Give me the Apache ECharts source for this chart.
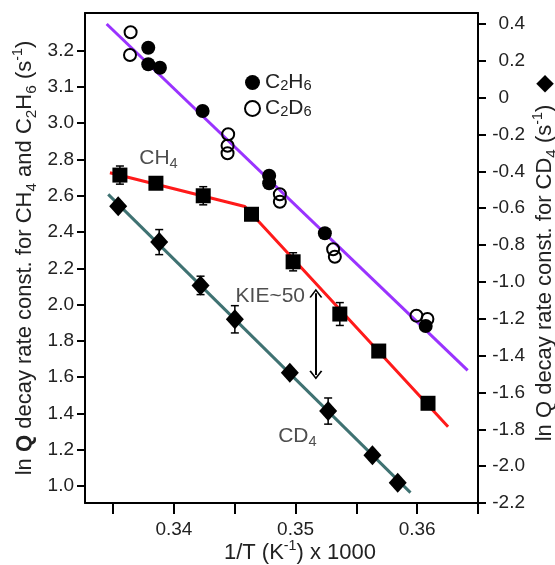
<!DOCTYPE html>
<html>
<head>
<meta charset="utf-8">
<script src="https://cdn.jsdelivr.net/npm/echarts@6/dist/echarts.min.js"></script>
<style>
  html, body { margin: 0; padding: 0; background: #fff; }
  #chart { width: 555px; height: 565px; }
</style>
</head>
<body>
<div id="chart"></div>
<script>
// x values are 1/T (K^-1) x 1000
const c2h6X = [0.33789, 0.33789, 0.33885, 0.34236, 0.34783, 0.34783, 0.35241, 0.36070];
const c2h6Y = [3.416, 3.325, 3.306, 3.067, 2.711, 2.669, 2.393, 1.882];
const c2d6X = [0.33644, 0.33639, 0.34446, 0.34441, 0.34441, 0.34871, 0.34871, 0.35309, 0.35323, 0.35994, 0.36084];
const c2d6Y = [3.501, 3.376, 2.939, 2.876, 2.834, 2.608, 2.567, 2.305, 2.264, 1.939, 1.921];
const ethaneFitX = [0.33447, 0.36415];
const ethaneFitY = [3.547, 1.637];

const ch4X = [0.33556, 0.33852, 0.34241, 0.34638, 0.34980, 0.35364, 0.35684, 0.36089];
const ch4Y = [2.714, 2.669, 2.600, 2.498, 2.236, 1.948, 1.744, 1.456];
const ch4Err = [0.05, 0.02, 0.05, 0.02, 0.05, 0.063, 0.02, 0.02];
const ch4FitX = [0.33474, 0.34583, 0.36254];
const ch4FitY = [2.727, 2.541, 1.327];

// CD4 goes on the right axis
const cd4X = [0.33542, 0.33879, 0.34219, 0.34501, 0.34953, 0.35268, 0.35632, 0.35840];
const cd4Y = [-0.590, -0.784, -1.019, -1.203, -1.493, -1.701, -1.941, -2.090];
const cd4Err = [0.02, 0.068, 0.05, 0.074, 0.02, 0.071, 0.02, 0.02];
const cd4FitX = [0.33460, 0.35945];
const cd4FitY = [-0.525, -2.144];

const xTicks = [0.335, 0.34, 0.345, 0.35, 0.355, 0.36, 0.365];
const xLabels = [0.34, 0.35, 0.36];
const leftTicks = [1.0, 1.2, 1.4, 1.6, 1.8, 2.0, 2.2, 2.4, 2.6, 2.8, 3.0, 3.2, 3.4];
const leftLabels = ['1.0', '1.2', '1.4', '1.6', '1.8', '2.0', '2.2', '2.4', '2.6', '2.8', '3.0', '3.1', '3.2'];
const rightTicks = [0.4, 0.2, 0, -0.2, -0.4, -0.6, -0.8, -1.0, -1.2, -1.4, -1.6, -1.8, -2.0, -2.2];

// KIE arrow, from/to on left axis
const kieX = 0.35167;
const kieY = [2.062, 1.612];

const FONT = '"Liberation Sans", Arial, sans-serif';
const TXT = '#222';

const pairs = (xs, ys) => xs.map((x, i) => [x, ys[i]]);

const richText = (size, lh) => ({
  b: { fontFamily: FONT, fontSize: size, fontWeight: 'bold', color: TXT, lineHeight: lh },
  sub: { fontFamily: FONT, fontSize: size * 0.7, color: TXT, verticalAlign: 'bottom', lineHeight: lh / 2 },
  sup: { fontFamily: FONT, fontSize: size * 0.65, color: TXT, verticalAlign: 'top', lineHeight: lh * 0.68 },
  dia: { fontFamily: '"DejaVu Sans"', fontSize: 23, color: '#000', lineHeight: lh }
});

const errorBars = (xs, ys, errs, yAxisIndex) => ({
  type: 'custom',
  yAxisIndex: yAxisIndex,
  silent: true,
  z: 3,
  data: xs.map((x, i) => [x, ys[i] - errs[i], ys[i] + errs[i]]),
  encode: { x: 0, y: [1, 2] },
  renderItem: function (params, api) {
    const lo = api.coord([api.value(0), api.value(1)]);
    const hi = api.coord([api.value(0), api.value(2)]);
    const w = 4;
    const style = { stroke: '#000', lineWidth: 1.5 };
    return {
      type: 'group',
      children: [
        { type: 'line', shape: { x1: lo[0], y1: lo[1], x2: hi[0], y2: hi[1] }, style: style },
        { type: 'line', shape: { x1: lo[0] - w, y1: lo[1], x2: lo[0] + w, y2: lo[1] }, style: style },
        { type: 'line', shape: { x1: hi[0] - w, y1: hi[1], x2: hi[0] + w, y2: hi[1] }, style: style }
      ]
    };
  }
});

const axisLine = { show: true, onZero: false, lineStyle: { color: '#000', width: 2 } };

const chart = echarts.init(document.getElementById('chart'));

chart.setOption({
  animation: false,
  backgroundColor: '#fff',
  textStyle: { fontFamily: FONT },
  // keep the plot box where it is, names may sit near the edge
  grid: { left: 85, right: 77, top: 13, bottom: 62, outerBoundsMode: 'none' },
  legend: {
    data: ['C2H6', 'C2D6'],
    orient: 'vertical',
    left: 239,
    top: 67,
    itemWidth: 15,
    itemHeight: 15,
    itemGap: 5,
    icon: 'circle',
    selectedMode: false,
    formatter: n => (n === 'C2H6' ? 'C{sub|2}H{sub|6}' : 'C{sub|2}D{sub|6}'),
    textStyle: { fontFamily: FONT, fontSize: 21, color: TXT, lineHeight: 21, rich: richText(21, 21) }
  },
  xAxis: [{
    type: 'value',
    min: 0.33269,
    max: 0.365,
    name: '1/T (K{sup|-1}) x 1000',
    nameLocation: 'middle',
    nameGap: 36,
    nameMoveOverlap: false,
    nameTextStyle: { fontFamily: FONT, fontSize: 22, color: TXT, lineHeight: 28, padding: [0, 0, 0, 37], rich: richText(22, 28) },
    axisLine: axisLine,
    axisTick: { show: true, customValues: xTicks, length: 11, lineStyle: { color: '#000', width: 2 } },
    axisLabel: { customValues: xLabels, formatter: v => v.toFixed(2), margin: 17, fontSize: 19, color: TXT, fontFamily: FONT },
    splitLine: { show: false }
  }, {
    type: 'value',
    position: 'top',
    min: 0.33269,
    max: 0.365,
    axisLine: axisLine,
    axisTick: { show: false },
    axisLabel: { show: false },
    splitLine: { show: false }
  }],
  yAxis: [{
    type: 'value',
    min: 0.9063,
    max: 3.6075,
    name: 'ln {b|Q} decay rate const. for CH{sub|4} and C{sub|2}H{sub|6} (s{sup|-1})',
    nameLocation: 'middle',
    nameRotate: 90,
    nameGap: 46,
    nameMoveOverlap: false,
    nameTextStyle: { fontFamily: FONT, fontSize: 22, color: TXT, lineHeight: 28, rich: richText(22, 28) },
    axisLine: axisLine,
    axisTick: { show: true, customValues: leftTicks, length: 8, lineStyle: { color: '#000', width: 2 } },
    axisLabel: {
      customValues: leftTicks,
      formatter: v => leftLabels[leftTicks.findIndex(t => Math.abs(t - v) < 1e-6)],
      margin: 11, fontSize: 19, color: TXT, fontFamily: FONT
    },
    splitLine: { show: false }
  }, {
    type: 'value',
    position: 'right',
    min: -2.2,
    max: 0.4594,
    name: 'ln Q decay rate const. for CD{sub|4} (s{sup|-1})  {dia|◆}',
    nameLocation: 'middle',
    nameRotate: 90,
    nameGap: 53,
    nameMoveOverlap: false,
    nameTextStyle: { fontFamily: FONT, fontSize: 22, color: TXT, lineHeight: 28, rich: richText(22, 28) },
    axisLine: axisLine,
    axisTick: { show: true, customValues: rightTicks, length: 8, lineStyle: { color: '#000', width: 2 } },
    axisLabel: {
      customValues: rightTicks,
      align: 'right',
      // numbers line up on the decimal point
      formatter: v => (Math.abs(v) < 1e-9 ? '0{ghost|.0}' : v.toFixed(1)),
      rich: { ghost: { fontSize: 19, fontFamily: FONT, color: 'rgba(0,0,0,0)' } },
      margin: 47, fontSize: 19, color: TXT, fontFamily: FONT
    },
    splitLine: { show: false }
  }],
  series: [
    {
      type: 'line', name: 'ethane fit', data: pairs(ethaneFitX, ethaneFitY),
      showSymbol: false, silent: true, z: 2,
      lineStyle: { color: '#9a33ff', width: 3 }
    },
    {
      type: 'line', name: 'CH4 fit', data: pairs(ch4FitX, ch4FitY),
      showSymbol: false, silent: true, z: 2,
      lineStyle: { color: '#ff1a1a', width: 3 }
    },
    {
      type: 'line', name: 'CD4 fit', yAxisIndex: 1, data: pairs(cd4FitX, cd4FitY),
      showSymbol: false, silent: true, z: 2,
      lineStyle: { color: '#3f7272', width: 3 }
    },
    errorBars(ch4X, ch4Y, ch4Err, 0),
    errorBars(cd4X, cd4Y, cd4Err, 1),
    {
      type: 'scatter', name: 'C2H6', data: pairs(c2h6X, c2h6Y), z: 4,
      symbol: 'circle', symbolSize: 14,
      itemStyle: { color: '#000', opacity: 1 }
    },
    {
      type: 'scatter', name: 'C2D6', data: pairs(c2d6X, c2d6Y), z: 4,
      symbol: 'circle', symbolSize: 12,
      itemStyle: { color: 'rgba(255,255,255,0)', borderColor: '#000', borderWidth: 2, opacity: 1 }
    },
    {
      type: 'scatter', name: 'CH4', data: pairs(ch4X, ch4Y), z: 4,
      symbol: 'rect', symbolSize: 15,
      itemStyle: { color: '#000', opacity: 1 }
    },
    {
      type: 'scatter', name: 'CD4', yAxisIndex: 1, data: pairs(cd4X, cd4Y), z: 4,
      symbol: 'diamond', symbolSize: [18, 20],
      itemStyle: { color: '#000', opacity: 1 }
    },
    {
      // text notes and the KIE double arrow
      type: 'scatter', name: 'notes', symbolSize: 0, silent: true, z: 5,
      label: {
        show: true, position: [0, 0], align: 'left', verticalAlign: 'middle',
        fontFamily: FONT, fontSize: 21, color: TXT, lineHeight: 26, rich: richText(21, 26)
      },
      data: [
        { value: [0.33715, 2.807], label: { formatter: 'CH{sub|4}' } },
        { value: [0.34507, 2.048], label: { formatter: 'KIE~50' } },
        { value: [0.34857, 1.272], label: { formatter: 'CD{sub|4}' } }
      ],
      markLine: {
        silent: true,
        symbol: ['path://M0,10 L5,0 L10,10 L8.8,10.8 L5,3 L1.2,10.8 Z', 'path://M0,10 L5,0 L10,10 L8.8,10.8 L5,3 L1.2,10.8 Z'],
        symbolSize: [13, 9],
        label: { show: false },
        lineStyle: { color: '#000', width: 2, type: 'solid' },
        data: [[{ coord: [kieX, kieY[0]] }, { coord: [kieX, kieY[1]] }]]
      }
    }
  ]
});
</script>
</body>
</html>
